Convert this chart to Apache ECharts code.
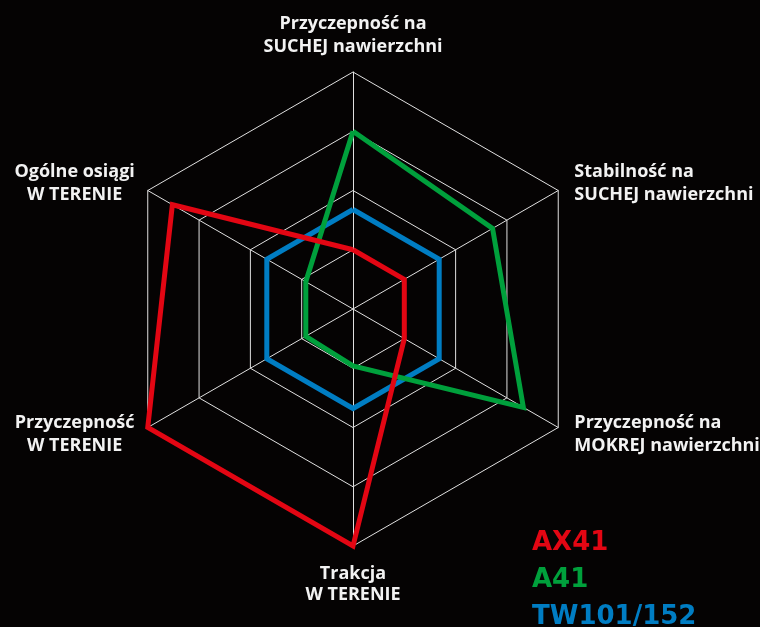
<!DOCTYPE html>
<html>
<head>
<meta charset="utf-8">
<script src="https://cdn.jsdelivr.net/npm/echarts@6/dist/echarts.min.js"></script>
<style>
html,body{margin:0;padding:0;background:#050303;}
#c{width:760px;height:627px;}
</style>
</head>
<body>
<div id="c"></div>
<script>
// Indicators, starting at the top and going counter-clockwise
const indicatorNames = [
  'Przyczepność na\nSUCHEJ nawierzchni',
  'Ogólne osiągi\nW TERENIE',
  'Przyczepność\nW TERENIE',
  'Trakcja\nW TERENIE',
  'Przyczepność na\nMOKREJ nawierzchni',
  'Stabilność na\nSUCHEJ nawierzchni'
];
const indicatorStyles = ['top', 'left', 'left', 'bottom', 'lr', 'ur'];
const maxValue = 100;
const seriesNames = ['AX41', 'A41', 'TW101/152'];
const ax41 = [25, 88, 100, 100, 25, 25];
const a41 = [75, 23, 23, 24, 83, 68];
const tw101 = [42, 42, 42, 42, 42, 42];
const colors = { 'AX41': '#e30613', 'A41': '#00a03c', 'TW101/152': '#007dc3' };

const chart = echarts.init(document.getElementById('c'));
const labelFont = { color: '#f2f2f2', fontFamily: 'Open Sans', fontWeight: 'bold', fontSize: 18, lineHeight: 23 };

const option = {
  backgroundColor: '#050303',
  legend: {
    orient: 'vertical',
    left: 527,
    top: 530,
    height: 130,
    width: 230,
    icon: 'none',
    itemWidth: 0,
    itemHeight: 0,
    itemGap: 10,
    padding: 0,
    selectedMode: false,
    data: seriesNames.map(n => ({
      name: n,
      textStyle: { color: colors[n], fontFamily: 'DejaVu Sans', fontWeight: 'bold', fontSize: 26, padding: 0, lineHeight: 27 }
    })),
    textStyle: { fontFamily: 'DejaVu Sans', fontWeight: 'bold', fontSize: 26 }
  },
  radar: {
    center: [353, 309],
    radius: 237,
    startAngle: 90,
    splitNumber: 4,
    shape: 'polygon',
    indicator: indicatorNames.map(n => ({ name: n, max: maxValue, min: 0 })),
    nameGap: 14,
    axisName: {
      formatter: function (name) {
        const i = indicatorNames.indexOf(name);
        const s = indicatorStyles[i];
        return name.split('\n').map((l, k) => '{' + s + (k === 0 ? '1' : '') + '|' + l + '}').join('\n');
      },
      rich: {
        top1: Object.assign({}, labelFont, { align: 'center' }),
        top: Object.assign({}, labelFont, { align: 'center' }),
        bottom1: Object.assign({}, labelFont, { align: 'center', padding: [4, 0, 0, 0] }),
        bottom: Object.assign({}, labelFont, { align: 'center' }),
        left1: Object.assign({}, labelFont, { align: 'center', width: 118, padding: [0, 2, 0, 0] }),
        left: Object.assign({}, labelFont, { align: 'center', width: 118, padding: [0, 2, 0, 0] }),
        lr1: Object.assign({}, labelFont, { align: 'left', padding: [0, 0, 0, 4] }),
        lr: Object.assign({}, labelFont, { align: 'left', padding: [0, 0, 0, 4] }),
        ur1: Object.assign({}, labelFont, { align: 'left', padding: [0, 0, 0, 4] }),
        ur: Object.assign({}, labelFont, { align: 'left', padding: [0, 0, 0, 4] })
      }
    },
    splitLine: { lineStyle: { color: '#e0e0e0', width: 1 } },
    axisLine: { lineStyle: { color: '#e0e0e0', width: 1 } },
    splitArea: { show: false },
    axisTick: { show: false },
    axisLabel: { show: false }
  },
  series: [{
    type: 'radar',
    symbol: 'none',
    silent: true,
    animation: false,
    data: [
      { name: 'TW101/152', value: tw101, lineStyle: { color: colors['TW101/152'], width: 5, join: 'miter' }, itemStyle: { color: colors['TW101/152'] } },
      { name: 'A41', value: a41, lineStyle: { color: colors['A41'], width: 5, join: 'miter' }, itemStyle: { color: colors['A41'] } },
      { name: 'AX41', value: ax41, lineStyle: { color: colors['AX41'], width: 5, join: 'miter' }, itemStyle: { color: colors['AX41'] } }
    ]
  }]
};
chart.setOption(option);
</script>
</body>
</html>
